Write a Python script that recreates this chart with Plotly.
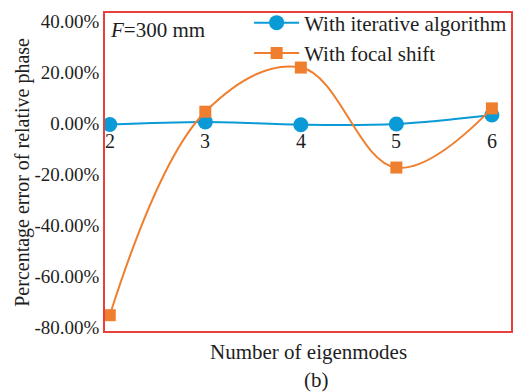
import plotly.graph_objects as go

modes = [2, 3, 4, 5, 6]
mode_labels = ["2", "3", "4", "5", "6"]
iterative = [-0.5, 0.5, -0.6, -0.3, 3.2]
focal_shift = [-75.3, 4.5, 21.8, -17.4, 5.8]
y_ticks = [40, 20, 0, -20, -40, -60, -80]
y_tick_text = ["40.00%", "20.00%", "0.00%", "-20.00%", "-40.00%", "-60.00%", "-80.00%"]

FONT = "Liberation Serif, Times New Roman, serif"
BLUE = "#0a9ad6"
ORANGE = "#ef7f2f"
RED = "#e8403c"
TXT = "#1e1e1e"

fig = go.Figure()
fig.add_trace(go.Scatter(
    x=modes, y=iterative, mode="lines+markers", name="With iterative algorithm",
    line=dict(color=BLUE, width=2, shape="spline", smoothing=1),
    marker=dict(symbol="circle", size=15, color=BLUE),
))
fig.add_trace(go.Scatter(
    x=modes, y=focal_shift, mode="lines+markers", name="With focal shift",
    line=dict(color=ORANGE, width=2, shape="spline", smoothing=1.1),
    marker=dict(symbol="square", size=12, color=ORANGE),
))

annotations = []
for m, lab in zip(modes, mode_labels):
    annotations.append(dict(x=m, y=0, xref="x", yref="y", text=lab, showarrow=False,
                            yanchor="top", yshift=-5, font=dict(family=FONT, size=20, color=TXT)))
annotations.append(dict(x=0.008, y=0.99, xref="paper", yref="paper", xanchor="left", yanchor="top",
                        text="<i>F</i>=300 mm", showarrow=False, font=dict(family=FONT, size=21, color=TXT)))
annotations.append(dict(x=0.5, y=-0.022, xref="paper", yref="paper", xanchor="center", yanchor="top",
                        text="Number of eigenmodes", showarrow=False, font=dict(family=FONT, size=21, color=TXT)))
annotations.append(dict(x=0.52, y=-0.11, xref="paper", yref="paper", xanchor="center", yanchor="top",
                        text="(b)", showarrow=False, font=dict(family=FONT, size=21, color=TXT)))
annotations.append(dict(x=-0.205, y=0.5, xref="paper", yref="paper", xanchor="center", yanchor="middle",
                        text="Percentage error of relative phase", textangle=-90, showarrow=False,
                        font=dict(family=FONT, size=20, color=TXT)))

fig.update_layout(
    width=516, height=392,
    margin=dict(l=105, r=3, t=13, b=61),
    paper_bgcolor="white", plot_bgcolor="white",
    font=dict(family=FONT, size=19, color=TXT),
    showlegend=True,
    legend=dict(x=0.355, y=1.033, xanchor="left", yanchor="top", bgcolor="rgba(0,0,0,0)",
                font=dict(family=FONT, size=21, color=TXT), tracegroupgap=0, itemwidth=45),
    annotations=annotations,
    xaxis=dict(range=[1.95, 6.2], showticklabels=False, ticks="", showgrid=False, zeroline=False,
               showline=True, linecolor=RED, linewidth=1.5, mirror=True),
    yaxis=dict(range=[-81.5, 43.2], tickvals=y_ticks, ticktext=y_tick_text, ticks="", showgrid=False,
               zeroline=False, showline=True, linecolor=RED, linewidth=1.5, mirror=True,
               tickfont=dict(family=FONT, size=19, color=TXT)),
)
fig.write_html("out.html", config={"displayModeBar": False},
               post_script="document.body.style.margin='0';document.body.style.overflow='hidden';")
